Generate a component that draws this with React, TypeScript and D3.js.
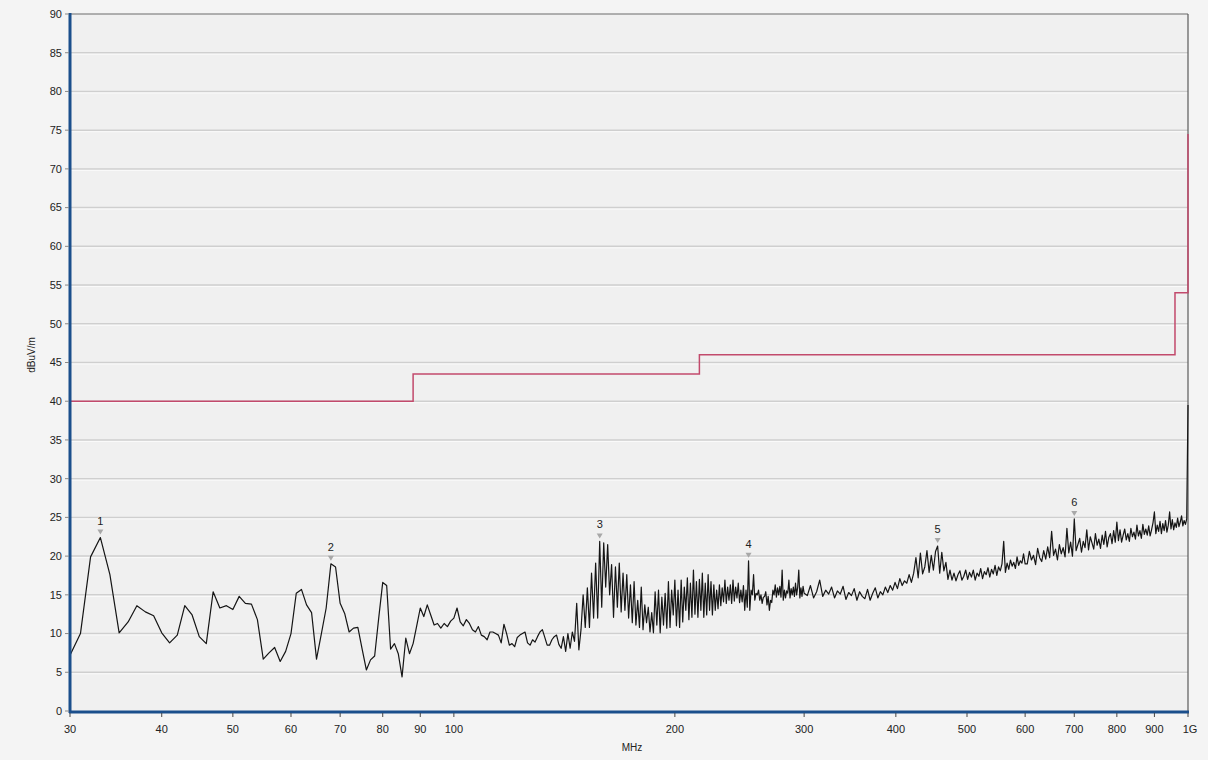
import React from 'react';
import * as d3 from 'd3';

// ---- Data ----
// Sweep A: 30..150 MHz, 1 MHz step
const sweepAStart = 30;
const sweepAStep = 1;
const levelsA: number[] = [
  7.2, 10.0, 19.9, 22.4, 17.6, 10.1, 11.5, 13.6, 12.8, 12.3,
  10.1, 8.8, 9.8, 13.6, 12.4, 9.6, 8.7, 15.4, 13.3, 13.6,
  13.1, 14.8, 13.9, 13.8, 11.8, 6.7, 7.5, 8.2, 6.4, 7.7,
  10.0, 15.2, 15.7, 13.7, 12.7, 6.7, 10.0, 13.3, 19.0, 18.6,
  13.9, 12.6, 10.2, 10.7, 10.8, 8.0, 5.3, 6.6, 7.1, 12.0,
  16.6, 16.2, 8.0, 8.7, 7.4, 4.4, 9.4, 7.4, 8.7, 11.0,
  13.3, 12.2, 13.7, 12.4, 11.1, 11.3, 10.7, 11.3, 10.9, 11.6,
  12.0, 13.3, 11.5, 11.0, 11.8, 11.3, 10.5, 10.2, 10.9, 9.8,
  9.6, 9.2, 10.2, 10.2, 10.0, 9.8, 8.8, 11.2, 10.0, 8.5,
  8.7, 8.3, 9.5, 9.8, 10.0, 10.2, 8.8, 8.5, 9.2, 8.9,
  9.6, 10.2, 10.5, 9.5, 8.5, 8.5, 9.2, 9.6, 9.8, 8.6,
  8.1, 9.6, 7.7, 10.0, 8.1, 10.2, 9.0, 13.9, 7.9, 10.5,
  15.0,
];

// Sweep B: 151..300 MHz, 1 MHz step
const sweepBStart = 151;
const sweepBStep = 1;
const levelsB: number[] = [
  10.8, 15.9, 10.8, 17.8, 12.0, 19.1, 12.0, 21.9, 13.4, 21.7,
  16.0, 21.5, 15.0, 18.9, 12.1, 18.6, 13.4, 19.1, 12.8, 17.8,
  13.0, 17.6, 12.0, 16.3, 11.4, 16.7, 11.1, 14.3, 10.8, 16.0,
  10.5, 13.7, 11.4, 13.4, 10.2, 12.7, 10.1, 15.4, 11.1, 15.6,
  10.1, 14.7, 11.1, 15.2, 10.7, 16.7, 10.8, 15.6, 12.4, 16.9,
  11.0, 15.6, 10.8, 16.9, 11.5, 16.0, 13.0, 17.2, 11.8, 16.5,
  12.1, 18.2, 12.5, 16.7, 12.1, 17.0, 13.0, 17.8, 12.1, 16.5,
  12.4, 17.6, 13.0, 16.7, 12.4, 16.3, 13.0, 15.6, 13.2, 16.3,
  13.6, 15.9, 14.1, 16.9, 13.9, 16.0, 14.3, 16.3, 13.9, 16.9,
  14.2, 16.0, 14.6, 16.5, 14.0, 15.6, 14.1, 16.2, 13.0, 15.6,
  13.4, 19.4, 13.0, 15.6, 15.0, 17.6, 14.3, 15.2, 15.0, 15.6,
  14.3, 15.0, 13.9, 14.7, 14.8, 15.4, 13.7, 14.8, 13.0, 14.3,
  14.0, 15.6, 15.0, 16.3, 14.7, 15.9, 15.0, 16.1, 14.7, 18.2,
  14.3, 15.6, 14.6, 15.5, 15.2, 16.9, 14.6, 15.8, 15.0, 16.0,
  14.8, 16.5, 15.0, 16.0, 18.2, 14.6, 15.9, 14.8, 16.1, 15.2,
];

// Sweep C: 303..600 MHz, 3 MHz step
const sweepCStart = 303;
const sweepCStep = 3;
const levelsC: number[] = [
  14.9, 16.2, 14.6, 15.4, 16.9, 14.8, 15.6, 15.1, 16.0,
  14.6, 15.5, 15.1, 16.1, 14.4, 15.3, 14.9, 15.8, 14.3, 15.4,
  14.8, 14.5, 15.7, 14.3, 15.2, 15.9, 14.6, 15.4, 15.0, 16.0,
  15.3, 16.2, 15.6, 16.6, 15.8, 17.1, 16.2, 16.8, 16.5, 17.6,
  16.6, 17.8, 19.8, 17.2, 20.4, 17.7, 18.6, 20.7, 17.9, 20.1,
  18.2, 20.6, 21.3, 17.8, 20.5, 18.1, 19.2, 17.0, 18.2, 16.9,
  17.8, 16.8, 17.6, 18.1, 16.9, 17.4, 18.2, 17.0, 17.9, 17.3,
  18.2, 16.9, 17.8, 17.4, 18.4, 17.1, 18.0, 17.6, 18.5, 17.3,
  18.3, 17.7, 18.8, 17.5, 18.6, 18.1, 19.0, 21.9, 17.9, 19.1,
  18.3, 19.5, 18.7, 19.2, 18.4, 19.9, 18.8, 19.4, 19.1, 20.3, 19.0,
];

// Sweep D: 604..1000 MHz, 4 MHz step
const sweepDStart = 604;
const sweepDStep = 4;
const levelsD: number[] = [
  19.0, 20.6, 19.5, 20.1, 18.9, 21.0, 19.8, 19.3, 20.7, 19.6,
  21.2, 19.8, 23.2, 20.1, 20.9, 19.5, 21.5, 20.3, 21.1, 19.9,
  23.6, 20.4, 21.8, 20.0, 24.8, 20.7, 21.5, 22.3, 20.5, 21.9,
  21.1, 23.4, 20.8, 22.5, 21.7, 20.9, 22.9, 21.4, 22.2, 21.0,
  22.7, 21.5, 23.2, 21.2, 22.4, 22.9, 21.6, 23.3, 21.8, 24.4,
  22.0, 23.4, 21.8, 22.7, 23.5, 22.1, 22.9, 21.9, 23.6, 22.5,
  23.1, 22.2, 24.0, 22.6, 23.3, 22.3, 24.1, 22.8, 23.5, 22.7,
  23.9, 22.6, 23.4, 24.3, 25.7, 22.9, 24.0, 23.2, 24.5, 22.9,
  24.2, 23.3, 24.6, 23.1, 24.0, 25.7, 23.5, 24.7, 23.4, 24.3,
  23.7, 24.9, 23.8, 24.4, 25.2, 23.9, 24.6, 24.1, 24.8, 39.5,
];

// Limit line (dBuV/m)
const limitFreqs: number[] = [30, 88, 88, 216, 216, 960, 960, 1000, 1000];
const limitLevels: number[] = [40, 40, 43.5, 43.5, 46, 46, 54, 54, 74.5];

// Peak markers
const markerIds: string[] = ['1', '2', '3', '4', '5', '6'];
const markerFreqs: number[] = [33, 68, 158, 252, 456, 700];
const markerLevels: number[] = [22.4, 19.0, 21.9, 19.4, 21.3, 24.8];

// Axes
const yTicks: number[] = [0, 5, 10, 15, 20, 25, 30, 35, 40, 45, 50, 55, 60, 65, 70, 75, 80, 85, 90];
const xTicks: number[] = [30, 40, 50, 60, 70, 80, 90, 100, 200, 300, 400, 500, 600, 700, 800, 900, 1000];
const xTickLabels: string[] = ['30', '40', '50', '60', '70', '80', '90', '100', '200', '300', '400', '500', '600', '700', '800', '900', '1G'];
const xTitle = 'MHz';
const yTitle = 'dBuV/m';

const FONT = "Arial, 'Liberation Sans', sans-serif";

function sweep(start: number, step: number, levels: number[]): [number, number][] {
  return levels.map((v, i) => [start + i * step, v] as [number, number]);
}

export default function App() {
  const left = 70, right = 1188, top = 14, bottom = 711;
  const x = d3.scaleLog().domain([30, 1000]).range([left, right]);
  const y = d3.scaleLinear().domain([0, 90]).range([bottom, top]);

  const trace: [number, number][] = [
    ...sweep(sweepAStart, sweepAStep, levelsA),
    ...sweep(sweepBStart, sweepBStep, levelsB),
    ...sweep(sweepCStart, sweepCStep, levelsC),
    ...sweep(sweepDStart, sweepDStep, levelsD),
  ];
  const limit: [number, number][] = limitFreqs.map((f, i) => [f, limitLevels[i]]);

  const line = d3.line<[number, number]>().x((d) => x(d[0])).y((d) => y(d[1]));

  return (
    <svg width={1208} height={760} style={{ position: 'absolute', left: 0, top: 0, background: '#f4f4f4' }}>
      <rect x={0} y={0} width={1208} height={760} fill="#f4f4f4" />
      <rect x={left} y={top} width={right - left} height={bottom - top} fill="#f0f0f0" />
      {/* grid */}
      {yTicks.filter((t) => t > 0 && t < 90).map((t) => (
        <g key={'g' + t}>
          <line x1={left} x2={right} y1={y(t)} y2={y(t)} stroke="#cfcfcf" strokeWidth={1.5} />
          <line x1={left} x2={right} y1={y(t) + 1.5} y2={y(t) + 1.5} stroke="#fafafa" strokeWidth={1} />
        </g>
      ))}
      {/* frame top/right */}
      <line x1={left} x2={right} y1={top} y2={top} stroke="#6a6a6a" strokeWidth={1.2} />
      <line x1={right} x2={right} y1={top} y2={bottom} stroke="#5a5a5a" strokeWidth={1.2} />
      {/* limit */}
      <path d={line(limit) || ''} fill="none" stroke="#c24a6c" strokeWidth={1.5} />
      {/* trace */}
      <path d={line(trace) || ''} fill="none" stroke="#151515" strokeWidth={1.2} strokeLinejoin="round" />
      {/* markers */}
      {markerIds.map((id, i) => {
        const px = x(markerFreqs[i]);
        const py = y(markerLevels[i]);
        return (
          <g key={'m' + id}>
            <path d={`M${px - 3},${py - 8} L${px + 3},${py - 8} L${px},${py - 3} Z`} fill="#a8a8a8" />
            <text x={px} y={py - 13} textAnchor="middle" fontFamily={FONT} fontSize={11} fill="#222">{id}</text>
          </g>
        );
      })}
      {/* axes */}
      <line x1={left} x2={left} y1={top - 1} y2={bottom + 2} stroke="#1b4f8c" strokeWidth={3} />
      <line x1={left - 1} x2={right + 1} y1={bottom + 1} y2={bottom + 1} stroke="#1b4f8c" strokeWidth={3} />
      {yTicks.map((t) => (
        <g key={'yt' + t}>
          <line x1={left - 5} x2={left - 1} y1={y(t)} y2={y(t)} stroke="#888" strokeWidth={1} />
          <text x={62} y={y(t)} dy="0.35em" textAnchor="end" fontFamily={FONT} fontSize={11} fill="#222">{t}</text>
        </g>
      ))}
      {xTicks.map((t, i) => (
        <g key={'xt' + t}>
          <line x1={x(t)} x2={x(t)} y1={bottom + 2} y2={bottom + 6} stroke="#444" strokeWidth={1} />
          <text x={x(t) + (t === 1000 ? 2 : 0)} y={729} dy="0.35em" textAnchor="middle" fontFamily={FONT} fontSize={11} fill="#222">{xTickLabels[i]}</text>
        </g>
      ))}
      <text x={632} y={747} dy="0.35em" textAnchor="middle" fontFamily={FONT} fontSize={10} fill="#222">{xTitle}</text>
      <text transform={`translate(31,355) rotate(-90)`} textAnchor="middle" dy="0.35em" fontFamily={FONT} fontSize={10} fill="#222">{yTitle}</text>
    </svg>
  );
}
